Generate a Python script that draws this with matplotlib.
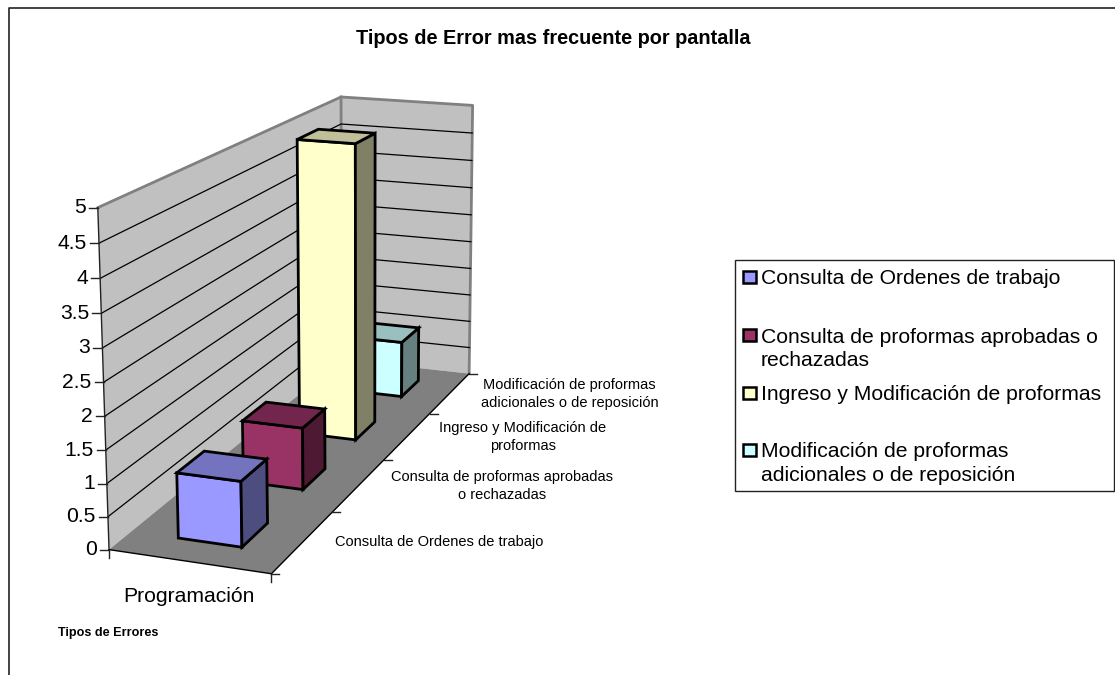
import numpy as np
import matplotlib
matplotlib.use('Agg')
import matplotlib.pyplot as plt
from matplotlib.patches import Polygon, Rectangle

plt.rcParams['font.family'] = ['Liberation Sans', 'DejaVu Sans']

title = 'Tipos de Error mas frecuente por pantalla'
group_label = 'Programación'
x_title = 'Tipos de Errores'
depth_labels = ['Consulta de Ordenes de trabajo',
                'Consulta de proformas aprobadas\no rechazadas',
                'Ingreso y Modificación de\nproformas',
                'Modificación de proformas\nadicionales o de reposición']
legend_labels = ['Consulta de Ordenes de trabajo',
                 'Consulta de proformas aprobadas o\nrechazadas',
                 'Ingreso y Modificación de proformas',
                 'Modificación de proformas\nadicionales o de reposición']
values = [1, 1, 5, 1]
value_ticks = [0, 0.5, 1, 1.5, 2, 2.5, 3, 3.5, 4, 4.5, 5]
value_tick_labels = ['0', '0.5', '1', '1.5', '2', '2.5', '3', '3.5', '4', '4.5', '5']
front_colors = ['#9999FF', '#993366', '#FFFFCC', '#CCFFFF']
top_colors = ['#7373BF', '#73264D', '#BFBF99', '#99BFBF']
side_colors = ['#4D4D80', '#4D1933', '#808066', '#668080']

# corners of the 3d box on the page: (across, depth, value) -> pixel
box_3d = np.array([[0, 0, 0], [1, 0, 0], [1, 1, 0], [0, 1, 0],
                   [0, 0, 5], [0, 1, 5], [1, 1, 5]], float)
box_px = np.array([[108.3, 550], [271.7, 573.3], [468.3, 374.3], [343, 359],
                   [98.3, 207.7], [340, 97.3], [473.3, 105]])


def fit_camera(p3, p2):
    rows, rhs = [], []
    for (a, b, c), (x, y) in zip(p3, p2):
        rows.append([a, b, c, 1, 0, 0, 0, 0, -x * a, -x * b, -x * c])
        rows.append([0, 0, 0, 0, a, b, c, 1, -y * a, -y * b, -y * c])
        rhs += [x, y]
    sol = np.linalg.lstsq(np.array(rows), np.array(rhs), rcond=None)[0]
    return np.append(sol, 1).reshape(3, 4)


cam = fit_camera(box_3d, box_px)


def proj(a, b, c):
    h = cam @ np.array([a, b, c, 1.0])
    return h[0] / h[2], h[1] / h[2]


def face(ax, pts, fc, ec='black', lw=2.0, z=2):
    ax.add_patch(Polygon([proj(*p) for p in pts], closed=True, fc=fc, ec=ec,
                         lw=lw, joinstyle='miter', zorder=z))


fig = plt.figure(figsize=(11.15, 6.75), dpi=100)
ax = fig.add_axes([0, 0, 1, 1])
ax.set_xlim(0, 1115)
ax.set_ylim(675, 0)
ax.axis('off')

# chart frame, cut off at the right and the bottom
ax.plot([8.7, 8.7, 1115], [675, 7.7, 7.7], color='#222222', lw=1.2)

# walls and floor
face(ax, [(0, 0, 0), (0, 1, 0), (0, 1, 5), (0, 0, 5)], '#C0C0C0', 'none', 0, 1)
face(ax, [(0, 1, 0), (1, 1, 0), (1, 1, 5), (0, 1, 5)], '#C0C0C0', 'none', 0, 1)
face(ax, [(0, 0, 0), (1, 0, 0), (1, 1, 0), (0, 1, 0)], '#808080', 'none', 0, 1)
wall_top = [proj(0, 0, 5), proj(0, 1, 5), proj(1, 1, 5), proj(1, 1, 0)]
ax.plot(*zip(*wall_top), color='#808080', lw=2, zorder=1.2)
ax.plot(*zip(proj(0, 1, 0), proj(0, 1, 5)), color='#808080', lw=2, zorder=1.2)

# gridlines on both walls
for v in value_ticks[1:-1]:
    ax.plot(*zip(proj(0, 0, v), proj(0, 1, v), proj(1, 1, v)), color='black', lw=0.9, zorder=1.3)

# axes lines and ticks
ax.plot(*zip(proj(0, 0, 0), proj(0, 0, 5)), color='#222222', lw=1, zorder=1.4)
ax.plot(*zip(proj(0, 0, 0), proj(1, 0, 0), proj(1, 1, 0)), color='black', lw=1, zorder=1.4)
for v, lab in zip(value_ticks, value_tick_labels):
    x, y = proj(0, 0, v)
    ax.plot([x - 9, x], [y, y], color='#222222', lw=1)
    ax.text(x - 12, y, lab, ha='right', va='center', fontsize=15.2)
x0, y0 = proj(0, 0, 0)
ax.plot([x0, x0], [y0, y0 + 8], color='#222222', lw=1)
x1, y1 = proj(1, 0, 0)
ax.plot([x1, x1], [y1, y1 + 8], color='#222222', lw=1)

# depth axis ticks and labels
n = len(values)
label_px = [(439, 542), (502, 486), (522.6, 437), (569.7, 394)]
for i in range(n + 1):
    x, y = proj(1, i / n, 0)
    ax.plot([x, x + 8], [y, y], color='#222222', lw=1)
for lab, (lx, ly) in zip(depth_labels, label_px):
    ax.text(lx, ly, lab, ha='center', va='center', fontsize=10.55, linespacing=1.42)

ax.text(189, 597, group_label, ha='center', va='center', fontsize=15.2)
ax.text(58, 633, x_title, ha='left', va='center', fontsize=9.1, fontweight='bold')
ax.text(553, 38, title, ha='center', va='center', fontsize=14.3, fontweight='bold')

# bars, back to front
bar_frac = 0.4
gap = (1 - bar_frac) / 2
for i in range(n - 1, -1, -1):
    val = values[i]
    a0, a1 = gap, 1 - gap
    b0, b1 = (i + gap) / n, (i + 1 - gap) / n
    face(ax, [(a0, b0, 0), (a1, b0, 0), (a1, b0, val), (a0, b0, val)], front_colors[i], z=2 + (n - i))
    face(ax, [(a1, b0, 0), (a1, b1, 0), (a1, b1, val), (a1, b0, val)], side_colors[i], z=2 + (n - i))
    face(ax, [(a0, b0, val), (a1, b0, val), (a1, b1, val), (a0, b1, val)], top_colors[i], z=2 + (n - i))

# legend
ax.add_patch(Rectangle((735, 260), 379, 231, fc='white', ec='#222222', lw=1, zorder=5))
leg_y = [277, 335, 393, 450]
leg_txt_y = [278, 349, 394, 463.5]
for lab, c, y, ty in zip(legend_labels, front_colors, leg_y, leg_txt_y):
    ax.add_patch(Rectangle((743, y - 6.3), 12.6, 12.6, fc=c, ec='black', lw=1.8, zorder=6))
    ax.text(761, ty, lab, ha='left', va='center', fontsize=15.2, linespacing=1.27, zorder=6)

fig.savefig('out.png', dpi=100)
